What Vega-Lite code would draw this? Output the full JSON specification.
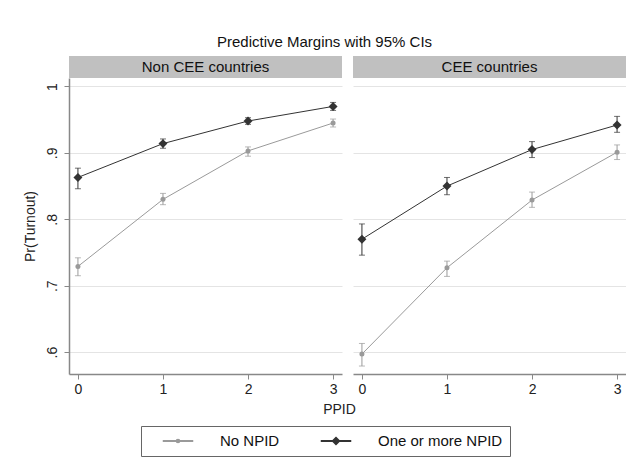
{
  "$schema": "https://vega.github.io/schema/vega-lite/v6.json",
  "background": "white",
  "padding": {"left": 23, "top": 35, "right": 0, "bottom": 5},
  "title": {"text": "Predictive Margins with 95% CIs", "fontSize": 15, "font": "Liberation Sans", "fontWeight": "normal", "color": "#111111", "anchor": "middle", "offset": 6},
  "config": {
    "font": "Liberation Sans",
    "axis": {"labelFontSize": 14, "titleFontSize": 14, "titleFontWeight": "normal", "labelColor": "#222222", "titleColor": "#222222", "labelFont": "Liberation Sans", "titleFont": "Liberation Sans"}
  },
  "datasets": {
    "margins": [
      {"panel": "Non CEE countries", "series": "No NPID", "ppid": 0, "margin": 0.729, "lo": 0.715, "hi": 0.742},
      {"panel": "Non CEE countries", "series": "No NPID", "ppid": 1, "margin": 0.830, "lo": 0.822, "hi": 0.839},
      {"panel": "Non CEE countries", "series": "No NPID", "ppid": 2, "margin": 0.903, "lo": 0.895, "hi": 0.909},
      {"panel": "Non CEE countries", "series": "No NPID", "ppid": 3, "margin": 0.945, "lo": 0.939, "hi": 0.951},
      {"panel": "Non CEE countries", "series": "One or more NPID", "ppid": 0, "margin": 0.863, "lo": 0.846, "hi": 0.877},
      {"panel": "Non CEE countries", "series": "One or more NPID", "ppid": 1, "margin": 0.914, "lo": 0.907, "hi": 0.921},
      {"panel": "Non CEE countries", "series": "One or more NPID", "ppid": 2, "margin": 0.948, "lo": 0.943, "hi": 0.953},
      {"panel": "Non CEE countries", "series": "One or more NPID", "ppid": 3, "margin": 0.970, "lo": 0.964, "hi": 0.976},
      {"panel": "CEE countries", "series": "No NPID", "ppid": 0, "margin": 0.597, "lo": 0.579, "hi": 0.613},
      {"panel": "CEE countries", "series": "No NPID", "ppid": 1, "margin": 0.727, "lo": 0.714, "hi": 0.737},
      {"panel": "CEE countries", "series": "No NPID", "ppid": 2, "margin": 0.829, "lo": 0.818, "hi": 0.841},
      {"panel": "CEE countries", "series": "No NPID", "ppid": 3, "margin": 0.901, "lo": 0.890, "hi": 0.912},
      {"panel": "CEE countries", "series": "One or more NPID", "ppid": 0, "margin": 0.770, "lo": 0.746, "hi": 0.793},
      {"panel": "CEE countries", "series": "One or more NPID", "ppid": 1, "margin": 0.850, "lo": 0.837, "hi": 0.863},
      {"panel": "CEE countries", "series": "One or more NPID", "ppid": 2, "margin": 0.905, "lo": 0.893, "hi": 0.917},
      {"panel": "CEE countries", "series": "One or more NPID", "ppid": 3, "margin": 0.942, "lo": 0.931, "hi": 0.955}
    ]
  },
  "spacing": 0,
  "resolve": {"scale": {"color": "shared"}, "legend": {"color": "shared"}},
  "vconcat": [
    {
      "spacing": 11,
      "bounds": "flush",
      "hconcat": [
        {
          "width": 273, "height": 22,
          "data": {"values": [{"panel": "Non CEE countries"}]},
          "view": {"fill": "#c0c0c0", "stroke": null},
          "mark": {"type": "text", "fontSize": 15, "color": "#111111", "font": "Liberation Sans"},
          "encoding": {"text": {"field": "panel", "type": "nominal"}}
        },
        {
          "width": 273, "height": 22,
          "data": {"values": [{"panel": "CEE countries"}]},
          "view": {"fill": "#c0c0c0", "stroke": null},
          "mark": {"type": "text", "fontSize": 15, "color": "#111111", "font": "Liberation Sans"},
          "encoding": {"text": {"field": "panel", "type": "nominal"}}
        }
      ]
    },
    {
      "spacing": 11,
      "bounds": "flush",
      "resolve": {"scale": {"color": "shared"}, "legend": {"color": "shared"}},
      "hconcat": [
        {
          "width": 273, "height": 296,
          "view": {"stroke": null},
          "data": {"name": "margins"},
          "transform": [{"filter": "datum.panel === 'Non CEE countries'"}],
          "encoding": {
            "x": {"field": "ppid", "type": "quantitative",
                  "scale": {"domain": [-0.105, 3.105], "nice": false, "zero": false},
                  "axis": {"values": [0, 1, 2, 3], "format": "d", "title": "PPID", "titleX": 270, "titleY": 28, "titleAlign": "center", "titleBaseline": "top", "grid": false, "domainColor": "#888888", "domainWidth": 1.5, "tickColor": "#888888", "tickSize": 5, "labelPadding": 3}},
            "color": {"field": "series", "type": "nominal",
                      "scale": {"domain": ["No NPID", "One or more NPID"], "range": ["#9a9a9a", "#333333"]},
                      "legend": {
                        "title": null, "orient": "none", "direction": "horizontal",
                        "legendX": 72, "legendY": 370,
                        "symbolSize": 3364, "clipHeight": 16,
                        "labelFontSize": 15, "labelFont": "Liberation Sans", "labelColor": "#111111",
                        "labelOffset": 12, "columnPadding": 26, "padding": 7,
                        "strokeColor": "#666666",
                        "encode": {"symbols": {"update": {
                          "shape": {"signal": "datum.value === 'No NPID' ? 'M-0.5,-0.01H0.5V0.01H-0.5ZM-0.055,0A0.055,0.055 0 1,0 0.055,0A0.055,0.055 0 1,0 -0.055,0Z' : 'M-0.5,-0.01H0.5V0.01H-0.5ZM0,-0.12L0.12,0L0,0.12L-0.12,0Z'"},
                          "fill": {"signal": "datum.value === 'No NPID' ? '#8a8a8a' : '#333333'"},
                          "opacity": {"value": 1}
                        }}}
                      }}
          },
          "layer": [
            {
              "mark": {"type": "line", "strokeWidth": 1},
              "encoding": {
                "y": {"field": "margin", "type": "quantitative", "title": "Pr(Turnout)",
                      "scale": {"domain": [0.567, 1.0128], "nice": false, "zero": false},
                      "axis": {"values": [0.6, 0.7, 0.8, 0.9, 1], "labelExpr": "replace(format(datum.value, '.1~f'), '0.', '.')", "labelAngle": -90, "grid": true, "gridColor": "#e4e4e4", "gridWidth": 1, "domainColor": "#888888", "domainWidth": 1.5, "tickColor": "#888888", "tickSize": 5, "labelPadding": 5, "titlePadding": 8}}
              }
            },
            {
              "mark": {"type": "errorbar", "ticks": {"size": 6}, "thickness": 1},
              "encoding": {
                "y": {"field": "lo", "type": "quantitative", "title": "Pr(Turnout)"},
                "y2": {"field": "hi"}
              }
            },
            {
              "transform": [{"filter": "datum.series === 'No NPID'"}],
              "mark": {"type": "point", "filled": true, "opacity": 1, "shape": "circle", "size": 25, "color": "#8a8a8a"},
              "encoding": {
                "y": {"field": "margin", "type": "quantitative", "title": "Pr(Turnout)"}
              }
            },
            {
              "transform": [{"filter": "datum.series === 'One or more NPID'"}],
              "mark": {"type": "point", "filled": true, "opacity": 1, "shape": "diamond", "size": 80, "color": "#333333"},
              "encoding": {
                "y": {"field": "margin", "type": "quantitative", "title": "Pr(Turnout)"}
              }
            }
          ]
        },
        {
          "width": 273, "height": 296,
          "view": {"stroke": null},
          "data": {"name": "margins"},
          "transform": [{"filter": "datum.panel === 'CEE countries'"}],
          "encoding": {
            "x": {"field": "ppid", "type": "quantitative",
                  "scale": {"domain": [-0.105, 3.105], "nice": false, "zero": false},
                  "axis": {"values": [0, 1, 2, 3], "format": "d", "title": null, "grid": false, "domainColor": "#888888", "domainWidth": 1.5, "tickColor": "#888888", "tickSize": 5, "labelPadding": 3}},
            "color": {"field": "series", "type": "nominal",
                      "scale": {"domain": ["No NPID", "One or more NPID"], "range": ["#9a9a9a", "#333333"]}}
          },
          "layer": [
            {
              "mark": {"type": "line", "strokeWidth": 1},
              "encoding": {
                "y": {"field": "margin", "type": "quantitative", "title": null,
                      "scale": {"domain": [0.567, 1.0128], "nice": false, "zero": false},
                      "axis": {"values": [0.6, 0.7, 0.8, 0.9, 1], "labels": false, "ticks": false, "domain": false, "grid": true, "gridColor": "#e4e4e4", "gridWidth": 1}}
              }
            },
            {
              "mark": {"type": "errorbar", "ticks": {"size": 6}, "thickness": 1},
              "encoding": {
                "y": {"field": "lo", "type": "quantitative", "title": null},
                "y2": {"field": "hi"}
              }
            },
            {
              "transform": [{"filter": "datum.series === 'No NPID'"}],
              "mark": {"type": "point", "filled": true, "opacity": 1, "shape": "circle", "size": 25, "color": "#8a8a8a"},
              "encoding": {
                "y": {"field": "margin", "type": "quantitative", "title": null}
              }
            },
            {
              "transform": [{"filter": "datum.series === 'One or more NPID'"}],
              "mark": {"type": "point", "filled": true, "opacity": 1, "shape": "diamond", "size": 80, "color": "#333333"},
              "encoding": {
                "y": {"field": "margin", "type": "quantitative", "title": null}
              }
            }
          ]
        }
      ]
    }
  ]
}
